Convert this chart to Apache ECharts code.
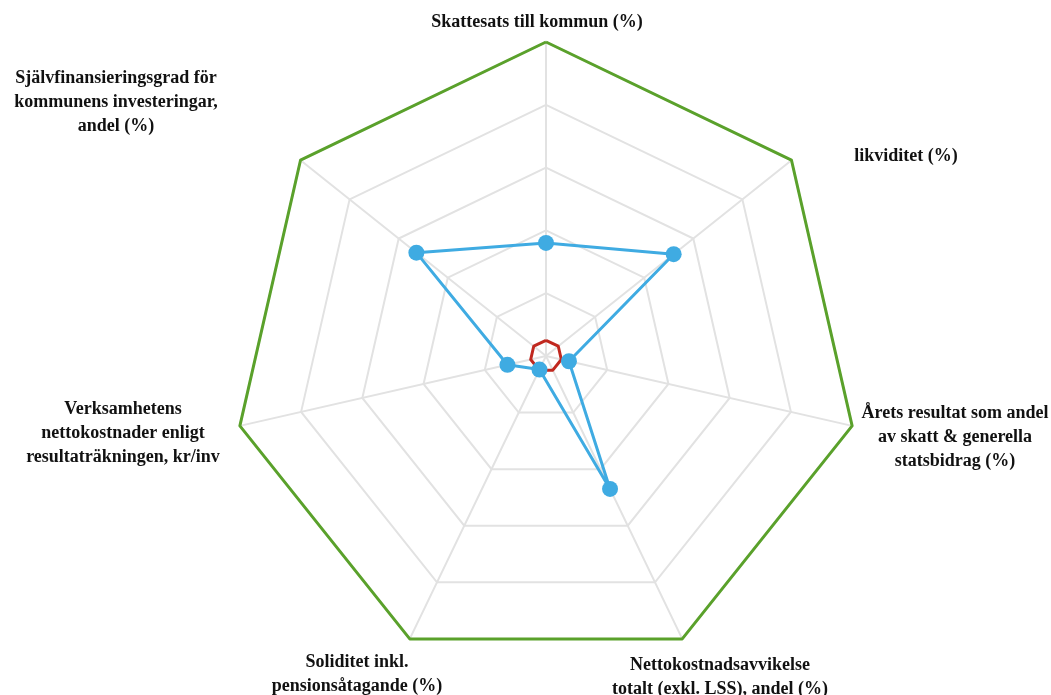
<!DOCTYPE html>
<html>
<head>
<meta charset="utf-8">
<script src="https://cdn.jsdelivr.net/npm/echarts@6/dist/echarts.min.js"></script>
<style>
  html, body { margin: 0; padding: 0; background: #fff; }
  #chart { width: 1051px; height: 695px; }
</style>
</head>
<body>
<div id="chart"></div>
<script>
// indicator names, in the order ECharts lays them out (counter-clockwise from the top)
const indicatorNames = [
  'Skattesats till kommun (%)',
  'Självfinansieringsgrad för\nkommunens investeringar,\nandel (%)',
  'Verksamhetens\nnettokostnader enligt\nresultaträkningen, kr/inv',
  'Soliditet inkl.\npensionsåtagande (%)',
  'Nettokostnadsavvikelse\ntotalt (exkl. LSS), andel (%)',
  'Årets resultat som andel\nav skatt & generella\nstatsbidrag (%)',
  'likviditet (%)'
];
const maxValue = 1;
const outerValues = [1, 1, 1, 1, 1, 1, 1];
const kommunValues = [0.36, 0.528, 0.126, 0.048, 0.47, 0.075, 0.52];
const innerValues = [0.05, 0.05, 0.05, 0.05, 0.05, 0.05, 0.05];

// label anchor points (layout only)
const labelPos = [
  [537, 22], [116, 102], [123, 433], [357, 674], [720, 677], [955, 437], [906, 156]
];

const chart = echarts.init(document.getElementById('chart'));
const font = '"Liberation Serif", "Times New Roman", serif';

chart.setOption({
  animation: false,
  radar: {
    center: [546, 356],
    radius: 314,
    startAngle: 90,
    splitNumber: 5,
    shape: 'polygon',
    indicator: indicatorNames.map(n => ({ name: n, max: maxValue, min: 0 })),
    axisName: { show: false },
    axisLine: { lineStyle: { color: '#e2e2e2', width: 2 } },
    splitLine: { lineStyle: { color: '#e2e2e2', width: 2 } },
    splitArea: { show: false },
    axisTick: { show: false },
    axisLabel: { show: false }
  },
  graphic: indicatorNames.map((n, i) => ({
    type: 'text',
    x: labelPos[i][0],
    y: labelPos[i][1],
    style: {
      text: n,
      fill: '#111',
      font: 'bold 18px ' + font,
      lineHeight: 24,
      align: 'center',
      verticalAlign: 'middle'
    }
  })),
  series: [{
    type: 'radar',
    silent: true,
    data: [
      {
        value: outerValues,
        symbol: 'none',
        lineStyle: { color: '#5aa12b', width: 3 }
      },
      {
        value: kommunValues,
        symbol: 'circle',
        symbolSize: 16,
        itemStyle: { color: '#3fabe2' },
        lineStyle: { color: '#3fabe2', width: 3 }
      },
      {
        value: innerValues,
        symbol: 'none',
        lineStyle: { color: '#c0281f', width: 3 }
      }
    ]
  }]
});
</script>
</body>
</html>
